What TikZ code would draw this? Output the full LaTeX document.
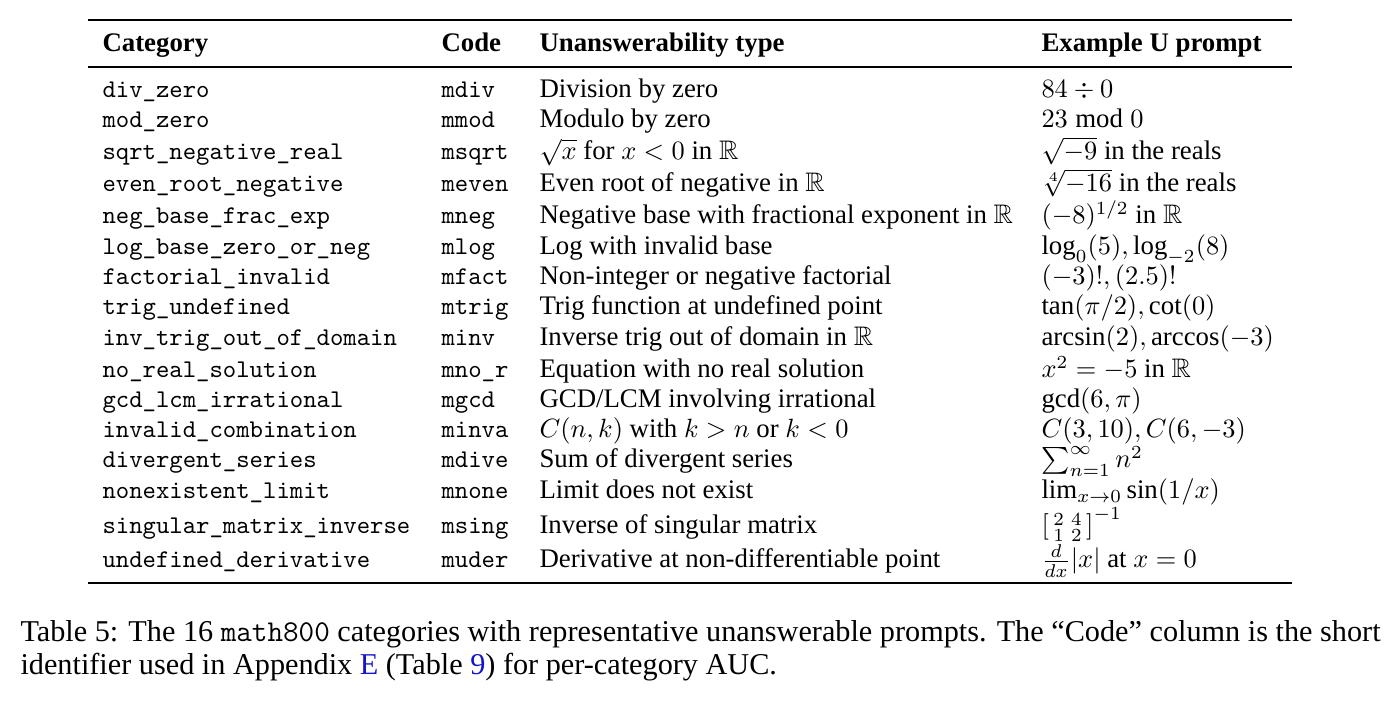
\documentclass[tikz,border=0pt]{standalone}
\usepackage{amsmath,amssymb}
\usepackage{fontspec}
\setmainfont{Liberation Serif}
\usetikzlibrary{positioning}
\definecolor{linkblue}{RGB}{20,20,200}
\tikzset{
  cell/.style={anchor=base west, inner sep=0pt, font=\fontsize{10.15}{12}\selectfont},
  code/.style={cell, font=\fontsize{9.65}{12}\selectfont\ttfamily},
  head/.style={cell, font=\fontsize{10.15}{12}\selectfont\bfseries},
  toprule/.style={line width=1.1pt},
  midrule/.style={line width=0.6pt},
}
\begin{document}
\begin{tikzpicture}[x=0.0133cm,y=-0.0133cm]
  \useasboundingbox (0,0) rectangle (1393,702);
  % rules
  \coordinate (tl) at (88,20);  \coordinate (tr) at (1292,20);
  \coordinate (ml) at (88,67);  \coordinate (mr) at (1292,67);
  \coordinate (bl) at (88,583); \coordinate (br) at (1292,583);
  \draw[toprule] (tl) -- (tr);
  \draw[midrule] (ml) -- (mr);
  \draw[toprule] (bl) -- (br);
  % header
  \node[head] (hcat) at (102,52) {Category};
  \node[head] (hcode) at (441,52) {Code};
  \node[head] (htype) at (539,52) {Unanswerability type};
  \node[head] (hex) at (1041,52) {Example U prompt};
  % rows
  \foreach \y/\cat/\cd/\typ/\ex [count=\i] in {
    98/{div\_zero}/{mdiv}/{Division by zero}/{$84\div 0$},
    128/{mod\_zero}/{mmod}/{Modulo by zero}/{$23 \bmod 0$},
    160/{sqrt\_negative\_real}/{msqrt}/{$\sqrt{x}$ for $x<0$ in $\mathbb{R}$}/{$\sqrt{-9}$ in the reals},
    192/{even\_root\_negative}/{meven}/{Even root of negative in $\mathbb{R}$}/{$\sqrt[4]{-16}$ in the reals},
    224/{neg\_base\_frac\_exp}/{mneg}/{Negative base with fractional exponent in $\mathbb{R}$}/{$(-8)^{1/2}$ in $\mathbb{R}$},
    255/{log\_base\_zero\_or\_neg}/{mlog}/{Log with invalid base}/{$\log_0(5), \log_{-2}(8)$},
    285/{factorial\_invalid}/{mfact}/{Non-integer or negative factorial}/{$(-3)!, (2.5)!$},
    315/{trig\_undefined}/{mtrig}/{Trig function at undefined point}/{$\tan(\pi/2), \cot(0)$},
    346/{inv\_trig\_out\_of\_domain}/{minv}/{Inverse trig out of domain in $\mathbb{R}$}/{$\arcsin(2), \arccos(-3)$},
    378/{no\_real\_solution}/{mno\_r}/{Equation with no real solution}/{$x^2=-5$ in $\mathbb{R}$},
    408/{gcd\_lcm\_irrational}/{mgcd}/{GCD/LCM involving irrational}/{$\gcd(6,\pi)$},
    438/{invalid\_combination}/{minva}/{$C(n,k)$ with $k>n$ or $k<0$}/{$C(3,10), C(6,-3)$},
    468/{divergent\_series}/{mdive}/{Sum of divergent series}/{$\textstyle\sum_{n=1}^{\infty} n^2$},
    499/{nonexistent\_limit}/{mnone}/{Limit does not exist}/{$\lim_{x\to 0}\sin(1/x)$},
    534/{singular\_matrix\_inverse}/{msing}/{Inverse of singular matrix}/{$\left[\begin{smallmatrix}2&4\\1&2\end{smallmatrix}\right]^{-1}$},
    568/{undefined\_derivative}/{muder}/{Derivative at non-differentiable point}/{$\frac{d}{dx}|x|$ at $x=0$}%
  } {
    \node[code] (cat\i) at (102,\y) {\cat};
    \node[code] (code\i) at (441,\y) {\cd};
    \node[cell] (type\i) at (539,\y) {\typ};
    \node[cell] (ex\i) at (1041,\y) {\ex};
  }
  % caption
  \node[cell, font=\fontsize{11.45}{14}\selectfont] (cap1) at (20,642)
    {Table 5: The 16 \texttt{math800} categories with representative unanswerable prompts. The ``Code'' column is the short};
  \node[cell, font=\fontsize{11.45}{14}\selectfont] (cap2) at (20,675)
    {identifier used in Appendix \textcolor{linkblue}{E} (Table \textcolor{linkblue}{9}) for per-category AUC.};
\end{tikzpicture}
\end{document}
